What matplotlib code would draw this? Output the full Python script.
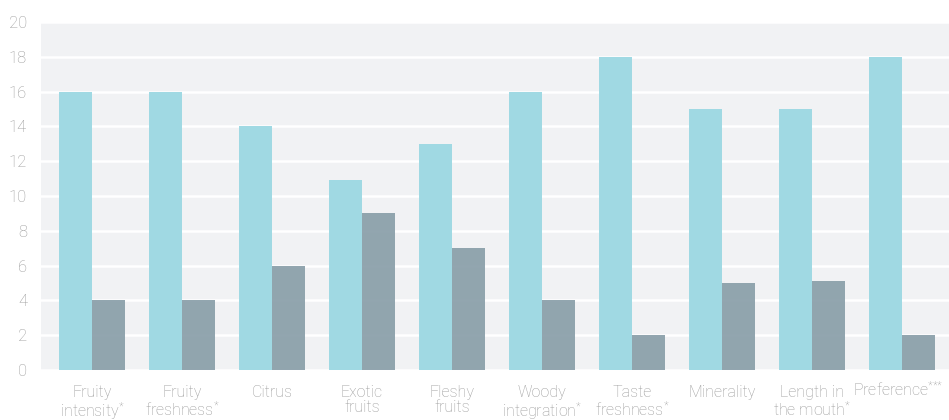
import matplotlib
matplotlib.use("Agg")
import numpy as np
from matplotlib import pyplot as plt
from matplotlib import transforms

categories = ["Fruity\nintensity$^{*}$", "Fruity\nfreshness$^{*}$", "Citrus",
              "Exotic\nfruits", "Fleshy\nfruits", "Woody\nintegration$^{*}$",
              "Taste\nfreshness$^{*}$", "Minerality", "Length in\nthe mouth$^{*}$",
              "Preference$^{{*}{*}{*}}$"]
series_a = [16, 16, 14, 10.9, 13, 16, 18, 15, 15, 18]
series_b = [4, 4, 6, 9, 7, 4, 2, 5, 5.1, 2]
yticks = list(range(0, 21, 2))

plt.rcParams['font.family'] = ['Roboto', 'DejaVu Sans']
plt.rcParams['font.weight'] = 'light'
plt.rcParams['mathtext.fontset'] = 'custom'
plt.rcParams['mathtext.rm'] = 'Roboto:light'
plt.rcParams['mathtext.default'] = 'regular'

fig = plt.figure(figsize=(9.49, 4.2), dpi=100)
ax = fig.add_axes([41 / 949, 50 / 420, 908 / 949, 348 / 420])
ax.set_facecolor('#F1F2F4')

x = np.arange(len(categories))
w = 0.367
ax.bar(x - w / 2, series_a, w, color='#A0D9E3', zorder=3)
ax.bar(x + w / 2, series_b, w, color='#8A9FA9', alpha=0.93, zorder=3)

ax.set_ylim(0, 20)
ax.set_xlim(-0.567, 9.522)
ax.set_yticks(yticks)
ax.yaxis.grid(True, color='white', linewidth=1.8, zorder=1)
ax.set_axisbelow(True)
for s in ax.spines.values():
    s.set_visible(False)
ax.tick_params(length=0, colors='#9A9A9A', labelsize=12)
ax.tick_params(axis='y', pad=10)
ax.tick_params(axis='x', pad=11, labelsize=11.5)
ax.set_xticks(x)
ax.set_xticklabels(categories, linespacing=1.0)
for lbl in ax.get_yticklabels():
    lbl.set_horizontalalignment('right')

# last label: single line with superscript sits low and runs off the edge
last = ax.get_xticklabels()[-1]
last.set_transform(last.get_transform() + transforms.ScaledTranslation(-4 / 100, 5 / 100, fig.dpi_scale_trans))

fig.savefig("out.png", dpi=100)
